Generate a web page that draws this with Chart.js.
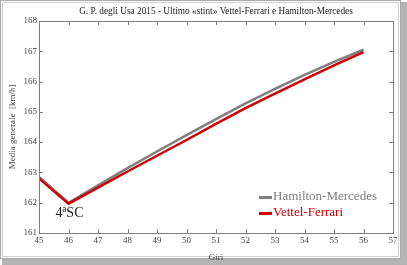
<!DOCTYPE html>
<html>
<head>
<meta charset="utf-8">
<script src="https://cdn.jsdelivr.net/npm/chart.js@4/dist/chart.umd.min.js"></script>
<style>
  html, body { margin: 0; padding: 0; background: #fff; }
  #wrap { width: 407px; height: 265px; position: relative; }
</style>
</head>
<body>
<div id="wrap"><canvas id="myChart" width="407" height="265"></canvas></div>
<script>
// giri e medie
const giri = [45, 46, 47, 48, 49, 50, 51, 52, 53, 54, 55, 56];
const hamilton = [162.85, 162.0, 162.57, 163.14, 163.69, 164.23, 164.76, 165.28, 165.76, 166.22, 166.65, 167.05];
const vettel = [162.8, 161.97, 162.5, 163.03, 163.55, 164.07, 164.6, 165.12, 165.6, 166.07, 166.53, 166.97];
const legendNames = ['Hamilton-Mercedes', 'Vettel-Ferrari'];
const titolo = 'G. P. degli Usa 2015 - Ultimo «stint» Vettel-Ferrari e Hamilton-Mercedes';
const nota = {x: 46, y: 161.6, text: '4ªSC'};

const grigio = '#7f7f7f', rosso = '#d00000';
const serif = "'Liberation Serif', 'DejaVu Serif', serif";

let pts = (xs, ys) => xs.map((x, i) => ({x: x, y: ys[i]}));

// cornice, tacche interne, legenda e nota
const extras = {
  id: 'extras',
  beforeDraw(chart) {
    const c = chart.ctx;
    c.save();
    c.fillStyle = '#fff';
    c.fillRect(0, 0, chart.width, chart.height);
    c.fillStyle = '#b4b4b4';
    c.fillRect(401, 2, 6, 263);
    c.fillRect(2, 259, 405, 6);
    c.strokeStyle = '#a8a8a8';
    c.lineWidth = 1;
    c.strokeRect(0.5, 0.5, 400, 258);
    c.strokeStyle = '#d0d0d0';
    c.strokeRect(2.5, 2.5, 396, 254);
    c.restore();
  },
  afterDraw(chart) {
    const c = chart.ctx, a = chart.chartArea;
    const xs = chart.scales.x, ys = chart.scales.y;
    c.save();
    c.strokeStyle = grigio;
    c.lineWidth = 1;
    c.strokeRect(Math.round(a.left) + 0.5, Math.round(a.top) + 0.5, Math.round(a.right - a.left), Math.round(a.bottom - a.top));
    c.beginPath();
    xs.ticks.forEach(t => {
      let px = Math.round(xs.getPixelForValue(t.value)) + 0.5;
      c.moveTo(px, a.top); c.lineTo(px, a.top + 4);
      c.moveTo(px, a.bottom); c.lineTo(px, a.bottom - 4);
    });
    ys.ticks.forEach(t => {
      let py = Math.round(ys.getPixelForValue(t.value)) + 0.5;
      c.moveTo(a.left, py); c.lineTo(a.left + 4, py);
      c.moveTo(a.right, py); c.lineTo(a.right - 4, py);
    });
    c.stroke();

    // legenda
    c.font = '13px ' + serif;
    c.textBaseline = 'middle';
    const cols = [grigio, rosso];
    legendNames.forEach((n, i) => {
      let y = 197 + i * 16;
      c.strokeStyle = cols[i];
      c.lineWidth = 3;
      c.beginPath(); c.moveTo(259, y + 0.5); c.lineTo(272, y + 0.5); c.stroke();
      c.fillStyle = cols[i];
      c.fillText(n, 273, y);
    });

    // nota safety car
    c.font = '14px ' + serif;
    c.fillStyle = '#222';
    c.textAlign = 'center';
    c.fillText(nota.text, xs.getPixelForValue(nota.x) + 1, ys.getPixelForValue(nota.y) - 1);
    c.restore();
  }
};

let ctx = document.getElementById('myChart');
document.myChart = new Chart(ctx, {
  type: 'line',
  data: {
    datasets: [{
      label: legendNames[1],
      data: pts(giri, vettel),
      borderColor: rosso,
      borderWidth: 2.5,
      pointRadius: 0,
      tension: 0,
      order: 0
    }, {
      label: legendNames[0],
      data: pts(giri, hamilton),
      borderColor: grigio,
      borderWidth: 2.5,
      pointRadius: 0,
      tension: 0,
      order: 1
    }]
  },
  options: {
    responsive: false,
    animation: false,
    layout: { padding: { left: 0, right: 14, top: 0, bottom: 0 } },
    scales: {
      x: {
        type: 'linear', min: 45, max: 57,
        afterFit: s => { s.height = 32; },
        ticks: { stepSize: 1, padding: 2, color: '#444', font: { family: serif, size: 9 } },
        grid: { drawOnChartArea: false, drawTicks: false },
        border: { display: false },
        title: { display: true, text: 'Giri', color: '#444', font: { family: serif, size: 9 }, padding: { top: 2, bottom: 2 } }
      },
      y: {
        min: 161, max: 168,
        afterFit: s => { s.width = 39; },
        ticks: { stepSize: 1, padding: 2, color: '#444', font: { family: serif, size: 9 } },
        grid: { drawOnChartArea: false, drawTicks: false },
        border: { display: false },
        title: { display: true, text: 'Media generale  [km/h]', color: '#444', font: { family: serif, size: 9 }, padding: { top: 7, bottom: 0 } }
      }
    },
    plugins: {
      legend: { display: false },
      tooltip: { enabled: false },
      title: { display: true, fullSize: false, text: titolo, color: '#222', font: { family: serif, size: 9.3, weight: 'normal' }, padding: { top: 6, bottom: 3.8 } }
    }
  },
  plugins: [extras]
});
</script>
</body>
</html>
